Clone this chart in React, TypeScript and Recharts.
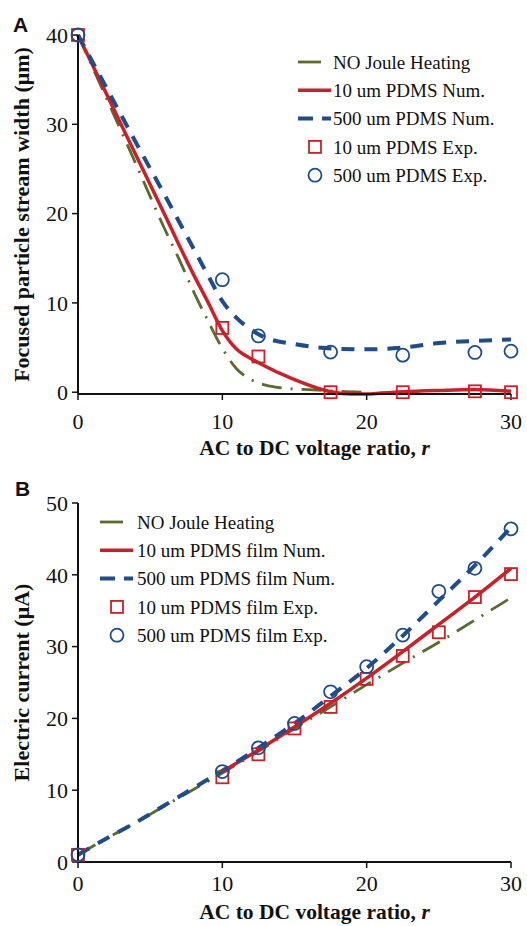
import { ComposedChart, Line, Scatter, XAxis, YAxis, Legend, Label } from 'recharts';

// ---- panel A: focused particle stream width (um) vs r ----
const widthNoJouleR = [0, 2, 4, 6, 7, 8, 9, 10, 11, 12, 13, 14, 15, 16, 17, 18, 20];
const widthNoJoule = [40, 32.8, 25.6, 18.3, 14.9, 11.3, 8.0, 4.9, 2.6, 1.4, 0.8, 0.5, 0.35, 0.3, 0.2, 0.1, 0];
const width10NumR = [0, 2, 4, 6, 8, 9, 10, 11, 12, 12.5, 15, 17.5, 19, 20, 21, 22.5, 25, 27.5, 30];
const width10Num = [40, 33.3, 26.6, 19.9, 13.2, 10.1, 6.9, 4.8, 3.75, 3.3, 1.4, 0.05, -0.2, -0.2, -0.1, 0.05, 0.2, 0.3, 0.1];
const width500NumR = [0, 2, 4, 6, 8, 9, 10, 11, 12, 13, 15, 17.5, 20, 22.5, 25, 27.5, 30];
const width500Num = [40, 34, 28, 22.1, 16.1, 13.1, 10.2, 8.3, 7.0, 6.1, 5.4, 4.9, 4.8, 5.0, 5.5, 5.75, 5.9];
const widthExpR = [0, 10, 12.5, 17.5, 22.5, 27.5, 30];
const width10Exp = [40, 7.2, 4.0, 0, 0, 0.1, 0];
const width500Exp = [40, 12.6, 6.3, 4.5, 4.15, 4.45, 4.6];

// ---- panel B: electric current (uA) vs r ----
const currentNoJouleR = [0, 2, 4, 6, 8, 10, 12.5, 15, 17.5, 20, 22.5, 25, 27.5, 30];
const currentNoJoule = [1, 3.3, 5.5, 7.8, 10.1, 12.4, 15.4, 18.6, 21.6, 24.7, 27.7, 30.6, 33.7, 36.8];
const current10NumR = [10, 12.5, 15, 17.5, 20, 22.5, 25, 27.5, 30];
const current10Num = [12.6, 15.6, 18.8, 22.1, 25.6, 29.3, 33.1, 36.9, 40.9];
const current500NumR = [0, 2, 4, 6, 8, 10, 12.5, 15, 17.5, 20, 22.5, 25, 27.5, 30];
const current500Num = [1, 3.3, 5.5, 7.9, 10.3, 12.7, 15.9, 19.3, 23.1, 27.0, 31.5, 36.4, 41.3, 46.6];
const currentExpR = [0, 10, 12.5, 15, 17.5, 20, 22.5, 25, 27.5, 30];
const current10Exp = [1, 11.8, 15.0, 18.6, 21.6, 25.5, 28.7, 32.0, 36.9, 40.1];
const current500Exp = [1, 12.6, 15.9, 19.3, 23.7, 27.2, 31.6, 37.7, 40.9, 46.4];

// ---- ticks ----
const xTicks = [0, 10, 20, 30];
const xMinor = [2, 4, 6, 8, 12, 14, 16, 18, 22, 24, 26, 28];
const widthTicks = [0, 10, 20, 30, 40];
const widthMinor = [2, 4, 6, 8, 12, 14, 16, 18, 22, 24, 26, 28, 32, 34, 36, 38];
const currentTicks = [0, 10, 20, 30, 40, 50];
const currentMinor = [2, 4, 6, 8, 12, 14, 16, 18, 22, 24, 26, 28, 32, 34, 36, 38, 42, 44, 46, 48];

const legendA = ['NO Joule Heating', '10 um PDMS Num.', '500 um PDMS Num.', '10 um PDMS Exp.', '500 um PDMS Exp.'];
const legendB = ['NO Joule Heating', '10 um PDMS film Num.', '500 um PDMS film Num.', '10 um PDMS film Exp.', '500 um PDMS film Exp.'];

const SERIF = '"Liberation Serif", "Times New Roman", serif';
const GREEN = '#5a6b2e';
const RED = '#cc1f27';
const BLUE = '#1e4d8c';
const GREEN_DASH = '20 9 2 9';
const BLUE_DASH = '13 10';

const pts = (xs: number[], ys: number[]) => xs.map((x, i) => ({ x, y: ys[i] }));

const Square = (props: any) => {
  const { cx, cy } = props;
  if (cx == null || cy == null) return <g />;
  return <rect x={cx - 6} y={cy - 6} width={12} height={12} fill="none" stroke={RED} strokeWidth={1.8} />;
};

const Circle = (props: any) => {
  const { cx, cy } = props;
  if (cx == null || cy == null) return <g />;
  return <circle cx={cx} cy={cy} r={6.5} fill="none" stroke={BLUE} strokeWidth={1.8} />;
};

const LegendBox = ({ labels, textX }: { labels: string[]; textX: number }) => {
  const row = 28.3;
  return (
    <svg width={250} height={150} style={{ display: 'block' }}>
      {labels.map((label, i) => {
        const cy = 14 + i * row;
        let symbol = null;
        if (i === 0) symbol = <line x1={0} x2={23} y1={cy} y2={cy} stroke={GREEN} strokeWidth={2.8} />;
        if (i === 1) symbol = <line x1={0} x2={33} y1={cy} y2={cy} stroke={RED} strokeWidth={3.5} />;
        if (i === 2)
          symbol = <line x1={0} x2={33} y1={cy} y2={cy} stroke={BLUE} strokeWidth={4} strokeDasharray="15 9" />;
        if (i === 3) symbol = <rect x={11} y={cy - 6} width={12} height={12} fill="none" stroke={RED} strokeWidth={1.8} />;
        if (i === 4) symbol = <circle cx={17} cy={cy} r={6.5} fill="none" stroke={BLUE} strokeWidth={1.8} />;
        return (
          <g key={label}>
            {symbol}
            <text x={textX} y={cy + 6.7} fontFamily={SERIF} fontSize={19} fill="#111">
              {label}
            </text>
          </g>
        );
      })}
    </svg>
  );
};

const makeXTitle = (dy: number) => ({ viewBox }: any) => (
  <text
    x={viewBox.x + viewBox.width / 2 + 20}
    y={viewBox.y + dy}
    textAnchor="middle"
    fontFamily={SERIF}
    fontWeight="bold"
    fontSize={21.5}
    fill="#111"
  >
    AC to DC voltage ratio, <tspan fontStyle="italic">r</tspan>
  </text>
);

const makeYTitle = (title: string, letter: string, lx: number, ly: number) => ({ viewBox }: any) => {
  const cy = viewBox.y + viewBox.height / 2;
  return (
    <g>
      <text
        x={29}
        y={cy}
        transform={`rotate(-90, 29, ${cy})`}
        textAnchor="middle"
        fontFamily={SERIF}
        fontWeight="bold"
        fontSize={22}
        fill="#111"
      >
        {title}
      </text>
      <text x={lx} y={ly} fontFamily='"Liberation Sans", Arial, sans-serif' fontWeight="bold" fontSize={21} fill="#111">
        {letter}
      </text>
    </g>
  );
};

type Pt = { x: number; y: number };

type PanelProps = {
  top: number;
  marginTop: number;
  xAxisHeight: number;
  xTickMargin: number;
  xTitleDy: number;
  yMax: number;
  yTicks: number[];
  yMinor: number[];
  yTitle: string;
  letter: string;
  letterX: number;
  letterY: number;
  legend: string[];
  legendLeft: number;
  legendTop: number;
  legendTextX: number;
  green: Pt[];
  red: Pt[];
  blue: Pt[];
  redExp: Pt[];
  blueExp: Pt[];
};

function Panel(p: PanelProps) {
  const tickFont = { fontSize: 22, fontFamily: SERIF, fill: '#111' };
  // a domain function keeps the axis at exactly [0, yMax] without clipping the series
  const yDomain = () => [0, p.yMax];
  return (
    <div style={{ position: 'absolute', left: 0, top: p.top }}>
      <ComposedChart width={527} height={463} margin={{ top: p.marginTop, right: 16, left: 18, bottom: 0 }}>
        <XAxis
          xAxisId="minor"
          type="number"
          dataKey="x"
          domain={[0, 30]}
          ticks={xMinor}
          mirror
          height={0}
          tickSize={5}
          tick={false}
          axisLine={false}
          tickLine={{ stroke: '#111', strokeWidth: 1.2 }}
        />
        <XAxis
          type="number"
          dataKey="x"
          domain={[0, 30]}
          ticks={xTicks}
          height={p.xAxisHeight}
          tickSize={6}
          tickMargin={p.xTickMargin}
          tick={tickFont}
          axisLine={{ stroke: '#111', strokeWidth: 2 }}
          tickLine={{ stroke: '#111', strokeWidth: 1.5 }}
        >
          <Label content={makeXTitle(p.xTitleDy)} />
        </XAxis>
        <XAxis
          xAxisId="top"
          orientation="top"
          type="number"
          domain={[0, 30]}
          allowDataOverflow
          height={0}
          tick={false}
          tickLine={false}
          axisLine={{ stroke: '#808080', strokeWidth: 1.5 }}
        />
        <YAxis
          yAxisId="minor"
          type="number"
          domain={[0, p.yMax]}
          ticks={p.yMinor}
          mirror
          width={0}
          tickSize={5}
          tick={false}
          axisLine={false}
          tickLine={{ stroke: '#111', strokeWidth: 1.2 }}
        />
        <YAxis
          type="number"
          dataKey="y"
          domain={yDomain}
          ticks={p.yTicks}
          width={60}
          tickSize={6}
          tickMargin={4}
          tick={tickFont}
          axisLine={{ stroke: '#111', strokeWidth: 2 }}
          tickLine={{ stroke: '#111', strokeWidth: 1.5 }}
        >
          <Label content={makeYTitle(p.yTitle, p.letter, p.letterX, p.letterY)} />
        </YAxis>
        <YAxis
          yAxisId="right"
          orientation="right"
          type="number"
          domain={[0, p.yMax]}
          allowDataOverflow
          width={0}
          tick={false}
          tickLine={false}
          axisLine={{ stroke: '#808080', strokeWidth: 1.5 }}
        />
        <Line
          data={p.green}
          dataKey="y"
          type="monotone"
          stroke={GREEN}
          strokeWidth={2.8}
          strokeDasharray={GREEN_DASH}
          dot={false}
          activeDot={false}
          isAnimationActive={false}
        />
        <Line
          data={p.red}
          dataKey="y"
          type="monotone"
          stroke={RED}
          strokeWidth={3.5}
          dot={false}
          activeDot={false}
          isAnimationActive={false}
        />
        <Line
          data={p.blue}
          dataKey="y"
          type="monotone"
          stroke={BLUE}
          strokeWidth={4}
          strokeDasharray={BLUE_DASH}
          dot={false}
          activeDot={false}
          isAnimationActive={false}
        />
        <Scatter data={p.redExp} dataKey="y" shape={Square} isAnimationActive={false} />
        <Scatter data={p.blueExp} dataKey="y" shape={Circle} isAnimationActive={false} />
        <Legend
          layout="vertical"
          align="center"
          verticalAlign="middle"
          wrapperStyle={{ left: p.legendLeft, top: p.legendTop, width: 250, height: 150 }}
          content={() => <LegendBox labels={p.legend} textX={p.legendTextX} />}
        />
      </ComposedChart>
    </div>
  );
}

export default function App() {
  return (
    <div style={{ position: 'absolute', left: 0, top: 0, width: 527, height: 926, background: '#fff' }}>
      <Panel
        top={0}
        marginTop={35}
        xAxisHeight={69}
        xTickMargin={13}
        xTitleDy={61}
        yMax={40}
        yTicks={widthTicks}
        yMinor={widthMinor}
        yTitle="Focused particle stream width (μm)"
        letter="A"
        letterX={13}
        letterY={32}
        legend={legendA}
        legendLeft={298}
        legendTop={47.5}
        legendTextX={35}
        green={pts(widthNoJouleR, widthNoJoule)}
        red={pts(width10NumR, width10Num)}
        blue={pts(width500NumR, width500Num)}
        redExp={pts(widthExpR, width10Exp)}
        blueExp={pts(widthExpR, width500Exp)}
      />
      <Panel
        top={463}
        marginTop={40}
        xAxisHeight={64}
        xTickMargin={7}
        xTitleDy={57}
        yMax={50}
        yTicks={currentTicks}
        yMinor={currentMinor}
        yTitle="Electric current (μA)"
        letter="B"
        letterX={15}
        letterY={33}
        legend={legendB}
        legendLeft={100}
        legendTop={44.7}
        legendTextX={37}
        green={pts(currentNoJouleR, currentNoJoule)}
        red={pts(current10NumR, current10Num)}
        blue={pts(current500NumR, current500Num)}
        redExp={pts(currentExpR, current10Exp)}
        blueExp={pts(currentExpR, current500Exp)}
      />
    </div>
  );
}
